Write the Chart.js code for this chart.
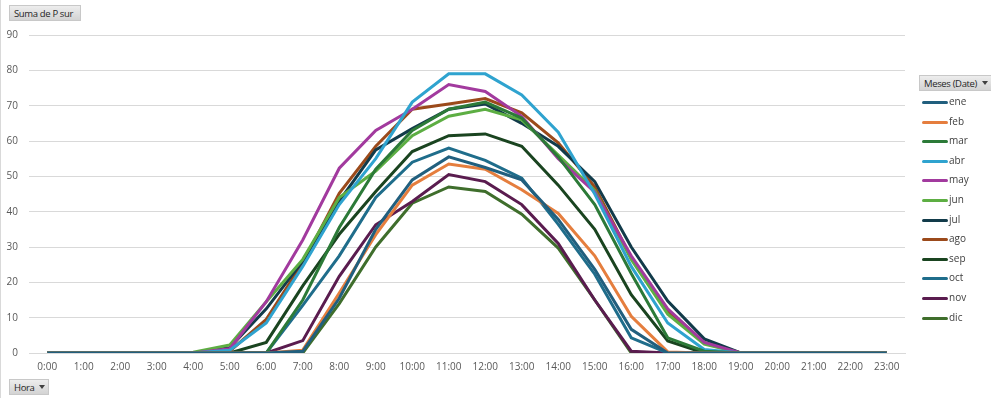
<!DOCTYPE html>
<html>
<head>
<meta charset="utf-8">
<script src="https://cdn.jsdelivr.net/npm/chart.js@4.4.0/dist/chart.umd.min.js"></script>
<style>
  html, body { margin: 0; padding: 0; background: #fff; }
  body { width: 991px; height: 398px; position: relative; overflow: hidden; font-family: "Open Sans", "Noto Sans", sans-serif; }
  #wrap { position: absolute; left: 0; top: 0; width: 991px; height: 398px; }
  .btn { position: absolute; height: 16px; line-height: 15px; font-size: 9.5px; letter-spacing: -0.35px; color: #262626;
         background: linear-gradient(#ededed, #d3d3d3); border: 1px solid #c8c8c8; box-sizing: border-box;
         padding: 0 0 0 4px; white-space: nowrap; overflow: hidden; }
  .arrow { display: inline-block; width: 0; height: 0; border-left: 3.5px solid transparent; border-right: 3.5px solid transparent;
           border-top: 4px solid #404040; margin-left: 5px; vertical-align: middle; position: relative; top: -1px; }
  #legend { position: absolute; left: 920px; top: 0; }
  .li { position: absolute; left: 0; height: 12px; font-size: 10px; color: #404040; white-space: nowrap; }
  .li span.sw { position: absolute; left: 2px; top: 5px; width: 26px; height: 3px; border-radius: 1.5px; }
  .li span.tx { position: absolute; left: 29px; top: -2px; }
  #frame { position: absolute; left: 0; top: 0; width: 1px; height: 398px; background: #d9d9d9; }
</style>
</head>
<body>
<div id="wrap"><canvas id="c" width="991" height="398"></canvas></div>
<div id="frame"></div>
<div class="btn" style="left:9px;top:5px;width:72px;">Suma de P sur</div>
<div class="btn" style="left:9px;top:379px;width:40px;">Hora<span class="arrow"></span></div>
<div class="btn" style="left:919px;top:75px;width:74px;">Meses (Date)<span class="arrow"></span></div>
<div id="legend"></div>
<script>
const hours = ["0:00","1:00","2:00","3:00","4:00","5:00","6:00","7:00","8:00","9:00","10:00","11:00",
               "12:00","13:00","14:00","15:00","16:00","17:00","18:00","19:00","20:00","21:00","22:00","23:00"];
const months = ["ene","feb","mar","abr","may","jun","jul","ago","sep","oct","nov","dic"];
const colors = ["#215F7E","#E57E3E","#2C7A38","#2FA3CF","#A23A9E","#5DAE43","#123B4A","#9B4A1B","#1A4420","#1F6D8B","#5A1C4F","#3F6E2C"];

const ene = [0,0,0,0,0,0,0,0.5,15.5,35,49,55.5,52.5,49,37.8,23.7,6.7,0,0,0,0,0,0,0];
const feb = [0,0,0,0,0,0,0,0.8,17,33.5,47.5,53.5,52,46.2,39.5,27.5,10.4,0.3,0,0,0,0,0,0];
const mar = [0,0,0,0,0,0,0,15,35.5,52,63,69,71,66.5,55.5,42,22.5,4.3,0.5,0,0,0,0,0];
const abr = [0,0,0,0,0,0.8,8.5,24.5,42,55,71,79,79,73,62.5,45,24.5,8.5,1,0,0,0,0,0];
const may = [0,0,0,0,0,1.2,14.5,32,52.3,63,69,76,74,67,55,45.5,27.5,12.5,3,0,0,0,0,0];
const jun = [0,0,0,0,0.2,2.3,14.5,26.5,44,51.5,61.5,67,69,66,56,46,26.5,11,2.5,0,0,0,0,0];
const jul = [0,0,0,0,0,1.5,12.5,26,43,57.5,63.5,69,70.5,65,58.5,48.5,30,14.7,4,0,0,0,0,0];
const ago = [0,0,0,0,0,0.5,9.5,25.5,45.2,58.5,69,70.5,72,68,59.5,47,27,11.8,3,0,0,0,0,0];
const sep = [0,0,0,0,0,0,3,19,33.6,45.7,57,61.5,62,58.5,47.5,35,16.5,3.4,0,0,0,0,0,0];
const oct = [0,0,0,0,0,0,0,13.5,27.5,44,54,58,54.5,49.5,36.4,22.3,4.3,0,0,0,0,0,0,0];
const nov = [0,0,0,0,0,0,0,3.5,21.7,36.3,42.9,50.5,48.5,42,31,15,0.5,0,0,0,0,0,0,0];
const dic = [0,0,0,0,0,0,0,0,14,30,42.4,47,45.7,39.3,29.7,15,0,0,0,0,0,0,0,0];
const yTicks = [0,10,20,30,40,50,60,70,80,90];

const series = [ene,feb,mar,abr,may,jun,jul,ago,sep,oct,nov,dic];

const datasets = months.map((m, i) => ({
  label: m,
  data: series[i],
  borderColor: colors[i],
  backgroundColor: colors[i],
  borderWidth: 3,
  pointRadius: 0,
  pointHoverRadius: 0,
  tension: 0,
  fill: false
}));

// HTML legend built from arrays
const lg = document.getElementById('legend');
months.forEach((m, i) => {
  const d = document.createElement('div');
  d.className = 'li';
  d.style.top = (96 + i * 19.6) + 'px';
  d.innerHTML = '<span class="sw" style="background:' + colors[i] + '"></span><span class="tx">' + m + '</span>';
  lg.appendChild(d);
});

const tickFont = { family: "'Open Sans', 'Noto Sans', sans-serif", size: 10 };

new Chart(document.getElementById('c'), {
  type: 'line',
  data: { labels: hours, datasets },
  options: {
    responsive: false,
    animation: false,
    events: [],
    layout: { padding: { top: 35, right: 86, bottom: 0, left: 0 } },
    plugins: { legend: { display: false }, tooltip: { enabled: false }, title: { display: false } },
    scales: {
      x: {
        type: 'category',
        offset: true,
        grid: { display: false, drawTicks: false },
        border: { display: true, color: '#d9d9d9', width: 1 },
        ticks: { color: '#595959', font: tickFont, maxRotation: 0, minRotation: 0, autoSkip: false, padding: 8 },
        afterFit: (s) => { s.height = 45; }
      },
      y: {
        min: 0, max: 90,
        afterBuildTicks: (s) => { s.ticks = yTicks.map(v => ({ value: v })); },
        grid: { color: '#d9d9d9', lineWidth: 1, drawTicks: false },
        border: { display: false },
        ticks: { color: '#595959', font: tickFont, padding: 11 },
        afterFit: (s) => { s.width = 29; }
      }
    }
  }
});
</script>
</body>
</html>
